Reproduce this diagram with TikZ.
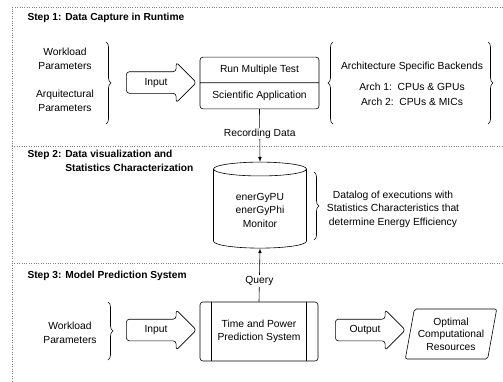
\documentclass[tikz,border=0pt]{standalone}
\usepackage{fontspec}
\setmainfont{Liberation Sans}
\usetikzlibrary{shapes,arrows,positioning,decorations.pathreplacing}

\begin{document}
\begin{tikzpicture}[x=1pt, y=-1pt, font=\fontsize{10.3}{13.5}\selectfont,
    steptitle/.style={anchor=west, font=\fontsize{10.2}{13.5}\selectfont\bfseries},
    sepline/.style={dotted, gray},
    curly/.style={decorate, decoration={brace, amplitude=5pt}, semithick},
    fatarrow/.style={single arrow, draw, semithick, rounded corners=3pt, minimum height=70pt,
        single arrow head extend=9.5pt, inner ysep=6pt, text height=7pt, text depth=2pt},
    conn/.style={-latex, semithick}]
  \useasboundingbox (0,0) rectangle (503,381);

  % Frame and separators
  \draw[sepline] (12,381) -- (12,7) -- (503,7);
  \draw[sepline] (12,146) -- (503,146);
  \draw[sepline] (12,263) -- (503,263);

  % Step 1
  \node[steptitle] (title1) at (24,18) {Step 1: Data Capture in Runtime};
  \node[align=center] (workload1) at (65,59) {Workload\\Parameters};
  \node[align=center] (arqparam) at (65,101) {Arquitectural\\Parameters};
  \draw[curly] (106,42) -- (106,124);
  \node[fatarrow] (input1) at (156,82.5) {Input};
  \node[rectangle split, rectangle split parts=2, draw, semithick, rounded corners=3pt,
        minimum width=119pt, inner ysep=8pt, text height=7pt, text depth=2pt] (runtest) at (259.5,83)
        {Run Multiple Test \nodepart{two} Scientific Application};
  \draw[curly] (333,124) -- (333,42);
  \draw[curly] (488,42) -- (488,124);
  \node[align=center] (backends) at (412,84)
        {Architecture Specific Backends\\[7pt] Arch 1:\ \ CPUs \& GPUs\\[2pt] Arch 2:\ \ CPUs \& MICs};

  % Step 2
  \node[steptitle, align=left] (title2) at (24,162)
        {Step 2: Data visualization and\\\phantom{Step 2: }Statistics Characterization};
  \node[cylinder, shape border rotate=90, draw, semithick, aspect=0.25, align=center,
        minimum width=93pt, minimum height=86pt] (monitor) at (260,210)
        {enerGyPU\\enerGyPhi\\Monitor};
  \draw[curly] (314,172) -- (314,240);
  \node[align=center] (datalog) at (393,209)
        {Datalog of executions with\\Statistics Characteristics that\\determine Energy Efficiency};
  \draw[conn] (runtest.south) -- (monitor.north) node[pos=0.46, fill=white, inner sep=1pt] {Recording Data};

  % Step 3
  \node[steptitle] (title3) at (24,276) {Step 3: Model Prediction System};
  \node[align=center] (workload3) at (70,333) {Workload\\Parameters};
  \draw[curly] (108,302) -- (108,360);
  \node[fatarrow] (input2) at (156,330) {Input};
  \node[draw, semithick, rounded corners=3pt, minimum width=118pt, minimum height=59pt, align=center]
        (predict) at (259,331.5) {Time and Power\\Prediction System};
  \draw[semithick] ([xshift=12pt]predict.north west) -- ([xshift=12pt]predict.south west);
  \draw[semithick] ([xshift=-12pt]predict.north east) -- ([xshift=-12pt]predict.south east);
  \node[fatarrow] (output) at (365,330) {Output};
  \node[trapezium, trapezium left angle=77, trapezium right angle=103, trapezium stretches=true,
        draw, semithick, rounded corners=2pt, minimum width=92pt, minimum height=50pt, align=center,
        font=\fontsize{10.3}{12.5}\selectfont] (optimal) at (451,334) {Optimal\\Computational\\Resources};
  \draw[conn] (predict.north) -- (monitor.south) node[pos=0.39, fill=white, inner sep=1pt] {Query};
\end{tikzpicture}
\end{document}
